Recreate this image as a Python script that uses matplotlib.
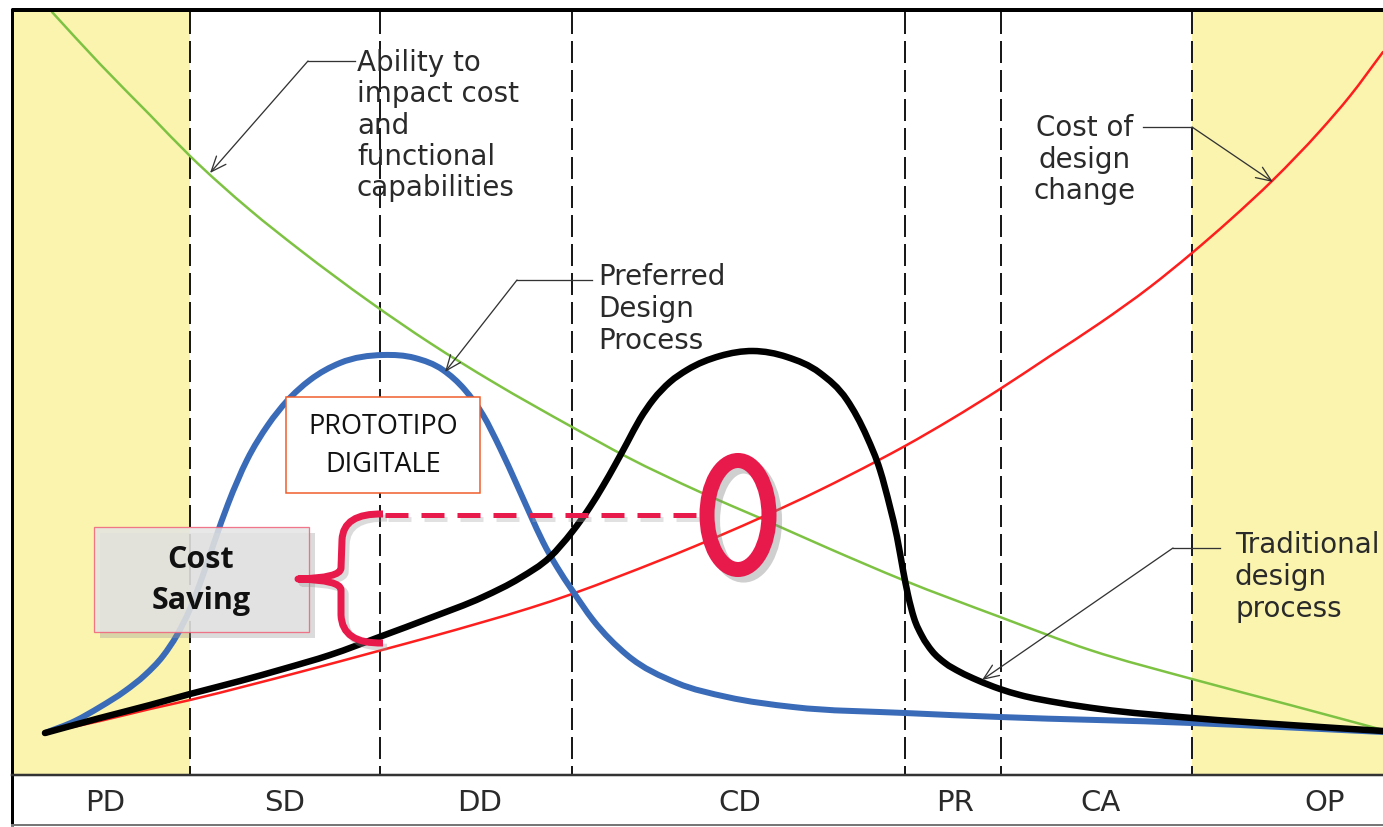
import matplotlib
matplotlib.use("Agg")
import numpy as np
import matplotlib.pyplot as plt
from matplotlib.patches import Rectangle, Ellipse, PathPatch
from matplotlib.path import Path
import matplotlib.patheffects as pe

# ---------------- data (timeline units ~ image x, value units ~ image y, inverted) ----------------
phase_labels = ["PD", "SD", "DD", "CD", "PR", "CA", "OP"]
phase_label_x = [105, 285, 480, 740, 955, 1100, 1325]
phase_bounds = [190, 380, 572, 905, 1001, 1192]
shaded_spans = [(12, 190), (1192, 1383)]

ability_x = [52, 100, 150, 190, 250, 300, 370, 430, 493, 572, 627, 700, 760, 830, 903,
             1000, 1090, 1192, 1290, 1383]
ability_y = [12, 64, 115, 156, 210, 250, 302, 343, 382, 427, 457, 492, 518, 549, 580,
             617, 650, 679, 705, 730]

cost_x = [45, 100, 150, 190, 250, 300, 382, 430, 483, 530, 572, 620, 693, 760, 820, 877,
          905, 950, 1000, 1050, 1100, 1150, 1192, 1230, 1273, 1320, 1350, 1383]
cost_y = [733, 721, 709, 700, 685, 672, 650, 637, 622, 608, 594, 576, 547, 518, 490, 461,
          446, 420, 389, 356, 323, 287, 253, 220, 180, 131, 96, 52]

preferred_x = [45, 75, 100, 125, 145, 163, 177, 190, 203, 215, 228, 247, 268, 287, 310, 340,
               383, 415, 443, 465, 483, 500, 517, 530, 543, 557, 572, 593, 627, 677, 727,
               793, 905, 1000, 1192, 1383]
preferred_y = [733, 721, 707, 691, 675, 656, 635, 609, 575, 540, 504, 460, 425, 401, 380, 363,
               355, 358, 370, 390, 415, 448, 485, 514, 542, 567, 590, 620, 655, 683, 697,
               707, 713, 717, 723, 732]

traditional_x = [45, 100, 150, 190, 240, 283, 330, 382, 430, 483, 520, 550, 572, 590, 603,
                 615, 627, 640, 653, 670, 687, 720, 753, 787, 820, 847, 867, 880, 890, 897,
                 903, 908, 914, 922, 932, 945, 960, 977, 1000, 1020, 1060, 1100, 1192, 1290,
                 1383]
traditional_y = [733, 718, 705, 694, 681, 669, 655, 636, 618, 597, 578, 557, 532, 507, 486,
                 465, 443, 419, 400, 382, 370, 356, 351, 357, 373, 400, 437, 470, 507, 537,
                 570, 595, 618, 636, 651, 663, 672, 680, 689, 695, 703, 709, 718, 725, 731]

# ---------------- figure ----------------
fig = plt.figure(figsize=(13.83, 8.27), dpi=100)
ax = fig.add_axes([0, 0, 1, 1])
ax.set_xlim(0, 1383)
ax.set_ylim(827, 0)
ax.axis("off")

PX = 0.72  # points per pixel at dpi 100


def smooth_curve(xs, ys, color, lw, z):
    """Draw a smooth cubic Bezier path through the given points (Hermite tangents in x)."""
    x = np.asarray(xs, float)
    y = np.asarray(ys, float)
    n = len(x)
    h = np.diff(x)
    d = np.diff(y) / h
    m = np.empty(n)
    m[0], m[-1] = d[0], d[-1]
    for i in range(1, n - 1):
        m[i] = (d[i - 1] * h[i] + d[i] * h[i - 1]) / (h[i - 1] + h[i])
    verts = [(x[0], y[0])]
    codes = [Path.MOVETO]
    for i in range(n - 1):
        verts += [(x[i] + h[i] / 3, y[i] + m[i] * h[i] / 3),
                  (x[i + 1] - h[i] / 3, y[i + 1] - m[i + 1] * h[i] / 3),
                  (x[i + 1], y[i + 1])]
        codes += [Path.CURVE4] * 3
    patch = PathPatch(Path(verts, codes), facecolor="none", edgecolor=color, lw=lw,
                      capstyle="round", joinstyle="round", zorder=z)
    ax.add_patch(patch)


for x0, x1 in shaded_spans:
    ax.add_patch(Rectangle((x0, 10), x1 - x0, 765, facecolor="#FAF4AF", edgecolor="none", zorder=0))

for xb in phase_bounds:
    ax.plot([xb, xb], [12, 775], color="#1a1a1a", lw=2 * PX,
            linestyle=(0, (11, 3.5)), zorder=1)

# borders
ax.plot([12, 1383], [10, 10], color="black", lw=4 * PX, solid_capstyle="butt", zorder=6)
ax.plot([12, 12], [8, 826], color="black", lw=3 * PX, solid_capstyle="butt", zorder=6)
ax.plot([12, 1383], [775, 775], color="#333333", lw=2.5 * PX, zorder=6)
ax.plot([12, 1383], [825, 825], color="#777777", lw=2 * PX, zorder=6)

for lab, lx in zip(phase_labels, phase_label_x):
    ax.text(lx, 803, lab, ha="center", va="center", fontsize=21,
            family="DejaVu Sans", color="#2a2a2a")

# curves
smooth_curve(ability_x, ability_y, "#7DC242", 2.5 * PX, 2)
smooth_curve(cost_x, cost_y, "#FF1E1E", 2.5 * PX, 2)
smooth_curve(preferred_x, preferred_y, "#3A6BB8", 6 * PX, 3)
smooth_curve(traditional_x, traditional_y, "black", 6.5 * PX, 4)


# callout labels
def label_lines(x, ys, lines, ha="left"):
    for yy, t in zip(ys, lines):
        ax.text(x, yy, t, ha=ha, va="center", fontsize=20, family="DejaVu Sans",
                color="#2a2a2a", zorder=7)


def callout(p_text, p_elbow, p_tip):
    ax.plot([p_text[0], p_elbow[0]], [p_text[1], p_elbow[1]], color="#333333",
            lw=1.3 * PX, zorder=7)
    ax.annotate("", xy=p_tip, xytext=p_elbow,
                arrowprops=dict(arrowstyle="->,head_length=1.1,head_width=0.45",
                                color="#333333", lw=1.3 * PX, shrinkA=0, shrinkB=0),
                zorder=7)


label_lines(357, [63, 94, 126, 157, 188],
            ["Ability to", "impact cost", "and", "functional", "capabilities"])
callout((355, 61), (308, 61), (210, 173))

label_lines(598, [277, 309, 341], ["Preferred", "Design", "Process"])
callout((592, 280), (517, 280), (445, 372))

label_lines(1085, [128, 160, 191], ["Cost of", "design", "change"], ha="center")
callout((1143, 127), (1192, 127), (1273, 182))

label_lines(1235, [545, 577, 609], ["Traditional", "design", "process"])
callout((1220, 548), (1173, 548), (982, 680))

# PROTOTIPO DIGITALE box
ax.add_patch(Rectangle((286, 397), 194, 96, facecolor="white", edgecolor="#F05A28",
                       lw=1.5 * PX, zorder=8))
ax.text(383, 427, "PROTOTIPO", ha="center", va="center", fontsize=19.5,
        family="Open Sans", color="#111111", zorder=9)
ax.text(383, 465, "DIGITALE", ha="center", va="center", fontsize=19.5,
        family="Open Sans", color="#111111", zorder=9)

# Cost Saving box
box = Rectangle((94, 527), 215, 105, facecolor="#E4E4E4", edgecolor="#F0607A",
                lw=1.3 * PX, alpha=0.85, zorder=8)
box.set_path_effects([pe.SimplePatchShadow(offset=(4, -4), shadow_rgbFace="#999999", alpha=0.35),
                      pe.Normal()])
ax.add_patch(box)
ax.text(201, 560, "Cost", ha="center", va="center", fontsize=22, fontweight="bold",
        family="Open Sans", color="#111111", zorder=9)
ax.text(201, 601, "Saving", ha="center", va="center", fontsize=22, fontweight="bold",
        family="Open Sans", color="#111111", zorder=9)

crimson = "#E8194B"
# curly brace
verts = [(383, 514), (343, 513), (342, 540),
         (341, 568), (341, 578), (298, 579),
         (341, 580), (341, 590), (341, 615),
         (342, 644), (383, 643)]
codes = [Path.MOVETO, Path.CURVE3, Path.CURVE3,
         Path.LINETO, Path.CURVE3, Path.CURVE3,
         Path.CURVE3, Path.CURVE3, Path.LINETO,
         Path.CURVE3, Path.CURVE3]
brace = PathPatch(Path(verts, codes), facecolor="none", edgecolor=crimson, lw=7 * PX,
                  capstyle="butt", joinstyle="round", zorder=10)
brace.set_path_effects([pe.Stroke(offset=(3, -3), foreground="#999999", alpha=0.35,
                                  linewidth=7 * PX),
                        pe.Normal()])
ax.add_patch(brace)

# dashed level line
ln, = ax.plot([385, 702], [515, 515], color=crimson, lw=5 * PX,
              linestyle=(0, (4.6, 2.6)), zorder=10)
ln.set_path_effects([pe.SimpleLineShadow(offset=(2, -3), shadow_color="#aaaaaa", alpha=0.35),
                     pe.Normal()])

# ellipse
ell = Ellipse((738, 515), 62, 109, facecolor="none", edgecolor=crimson, lw=15 * PX, zorder=10)
ell.set_path_effects([pe.Stroke(offset=(4, -4), foreground="#888888", alpha=0.4,
                                linewidth=15 * PX),
                      pe.Normal()])
ax.add_patch(ell)

fig.savefig("out.png", dpi=100)
